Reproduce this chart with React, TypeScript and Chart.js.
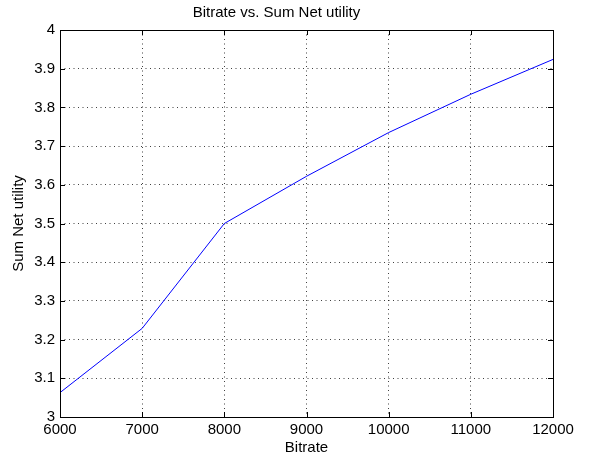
import React, { useEffect, useRef } from "react";
import { Chart, registerables } from "chart.js";

Chart.register(...registerables);

const bitrates = [6000, 7000, 8000, 9000, 10000, 11000, 12000];
const sumNetUtility = [3.063, 3.229, 3.5, 3.622, 3.735, 3.834, 3.924];
const chartTitle = "Bitrate vs. Sum Net utility";
const xTitle = "Bitrate";
const yTitle = "Sum Net utility";

const FONT = "'Liberation Sans', Arial, Helvetica, sans-serif";

const frameTicks = {
  id: "frameTicks",
  afterDraw(chart: any) {
    const { ctx, chartArea } = chart;
    const { left, right, top, bottom } = chartArea;
    const xs = chart.scales.x;
    const ys = chart.scales.y;
    const len = 5;
    ctx.save();
    ctx.strokeStyle = "#000";
    ctx.lineWidth = 1;
    ctx.setLineDash([]);
    ctx.beginPath();
    xs.ticks.forEach((t: any) => {
      const px = Math.round(xs.getPixelForValue(t.value)) + 0.5;
      ctx.moveTo(px, bottom);
      ctx.lineTo(px, bottom - len);
      ctx.moveTo(px, top);
      ctx.lineTo(px, top + len);
    });
    ys.ticks.forEach((t: any) => {
      const py = Math.round(ys.getPixelForValue(t.value)) + 0.5;
      ctx.moveTo(left, py);
      ctx.lineTo(left + len, py);
      ctx.moveTo(right, py);
      ctx.lineTo(right - len, py);
    });
    ctx.stroke();
    ctx.strokeRect(Math.round(left) + 0.5, Math.round(top) + 0.5, Math.round(right - left), Math.round(bottom - top));
    ctx.restore();
  },
};

export default function App() {
  const ref = useRef<HTMLCanvasElement | null>(null);
  useEffect(() => {
    document.body.style.margin = "0";
    const canvas = ref.current;
    if (!canvas) return;
    const chart = new Chart(canvas, {
      type: "line",
      data: {
        datasets: [
          {
            data: bitrates.map((b, i) => ({ x: b, y: sumNetUtility[i] })),
            borderColor: "#0000ff",
            borderWidth: 1,
            pointRadius: 0,
            tension: 0,
            fill: false,
          },
        ],
      },
      options: {
        responsive: false,
        animation: false,
        layout: { padding: { left: 0, right: 38, top: 0, bottom: 0 } },
        plugins: {
          legend: { display: false },
          tooltip: { enabled: false },
          title: {
            display: true,
            text: chartTitle,
            color: "#000",
            font: { family: FONT, size: 15, weight: "normal" },
            padding: { top: 3.5, bottom: 8.5 },
          },
        },
        scales: {
          x: {
            type: "linear",
            min: 6000,
            max: 12000,
            afterFit: (s: any) => {
              s.height = 42;
            },
            ticks: {
              stepSize: 1000,
              padding: 4,
              color: "#000",
              maxRotation: 0,
              font: { family: FONT, size: 15 },
              callback: (v: any) => String(v),
            },
            grid: {
              color: "rgba(0,0,0,0.75)",
              lineWidth: 1,
              drawTicks: false,
            },
            border: { display: false, dash: [1, 3.5] },
            title: {
              display: true,
              text: xTitle,
              color: "#000",
              font: { family: FONT, size: 15 },
              padding: { top: 0, bottom: 2 },
            },
          },
          y: {
            type: "linear",
            min: 3,
            max: 4,
            afterFit: (s: any) => {
              s.width = 60;
            },
            ticks: {
              stepSize: 0.1,
              padding: 5,
              color: "#000",
              font: { family: FONT, size: 15 },
              callback: (v: any) => String(Number(Number(v).toFixed(1))),
            },
            grid: {
              color: "rgba(0,0,0,0.75)",
              lineWidth: 1,
              drawTicks: false,
            },
            border: { display: false, dash: [1, 3.5] },
            title: {
              display: true,
              text: yTitle,
              color: "#000",
              font: { family: FONT, size: 15 },
              padding: { top: 9.5, bottom: 0 },
            },
          },
        },
      },
      plugins: [frameTicks],
    } as any);
    return () => chart.destroy();
  }, []);
  return (
    <div style={{ position: "absolute", left: 0, top: 0, width: 591, height: 459, background: "#fff" }}>
      <canvas ref={ref} width={591} height={459} style={{ display: "block" }} />
    </div>
  );
}
